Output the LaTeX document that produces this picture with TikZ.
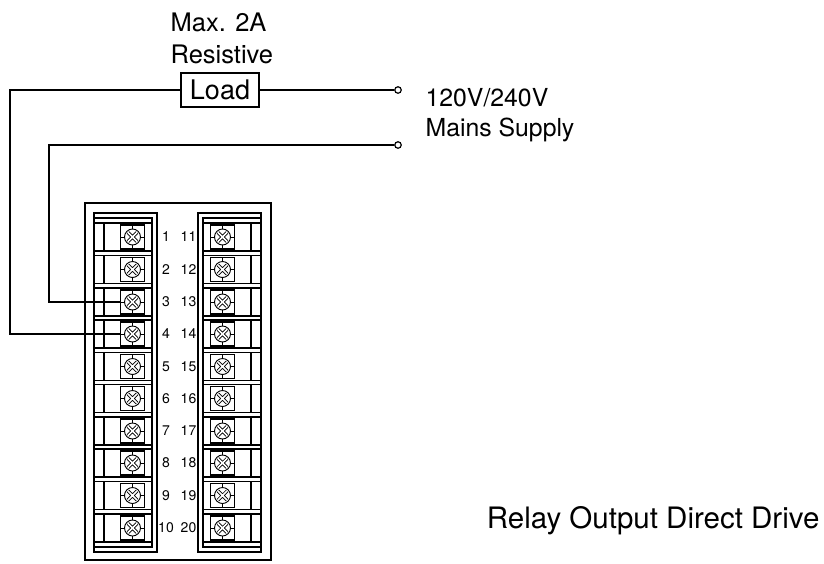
\documentclass[tikz,border=0pt]{standalone}
\usepackage{fontspec}
\setmainfont{TeX Gyre Heros}
\usepackage{tikz}
\usetikzlibrary{positioning}

\begin{document}
\begin{tikzpicture}[x=1pt,y=-1pt,line width=1.2pt,
    screw/.style={draw,rectangle,minimum width=24pt,minimum height=24pt,inner sep=0pt,fill=white,
      path picture={
        \coordinate (sc) at (path picture bounding box.center);
        \draw[line width=0.9pt] (sc) circle (8pt);
        \draw[line width=0.8pt,double,double distance=1.6pt]
          ([shift={(-4.6pt,-4.6pt)}]sc) -- ([shift={(4.6pt,4.6pt)}]sc)
          ([shift={(-4.6pt,4.6pt)}]sc) -- ([shift={(4.6pt,-4.6pt)}]sc);
        \draw[line width=0.9pt]
          ([yshift=8pt]sc) -- ([yshift=12pt]sc)
          ([yshift=-8pt]sc) -- ([yshift=-12pt]sc)
          ([xshift=8pt]sc) -- ([xshift=12pt]sc)
          ([xshift=-8pt]sc) -- ([xshift=-12pt]sc);}},
    num/.style={inner sep=0pt,font=\fontsize{14}{16}\selectfont},
    tag/.style={anchor=base west,inner sep=0pt,font=\fontsize{25.5}{30}\selectfont},
    supply/.style={circle,draw,fill=white,inner sep=0pt,minimum size=6.5pt},
    loadbox/.style={draw,rectangle,minimum width=78pt,minimum height=34pt,inner sep=0pt,font=\fontsize{27}{30}\selectfont}]

    \useasboundingbox (0,0) rectangle (824,563);

    % The housing
    \draw (85,203) rectangle (271,560);
    \draw (94,213) -- (157,213) -- (157,552) -- (94,552) -- cycle
          (94,218) -- (152,218) -- (152,547) -- (94,547);
    \draw (261,213) -- (198,213) -- (198,552) -- (261,552) -- cycle
          (261,218) -- (203,218) -- (203,547) -- (261,547);

    % Terminal rows
    \draw (94,223) rectangle (152,251) (104,223) -- (104,251) (203,223) rectangle (261,251) (251,223) -- (251,251);
    \draw (94,255.5) rectangle (152,283.5) (104,255.5) -- (104,283.5) (203,255.5) rectangle (261,283.5) (251,255.5) -- (251,283.5);
    \draw (94,288) rectangle (152,316) (104,288) -- (104,316) (203,288) rectangle (261,316) (251,288) -- (251,316);
    \draw (94,320) rectangle (152,348) (104,320) -- (104,348) (203,320) rectangle (261,348) (251,320) -- (251,348);
    \draw (94,352.5) rectangle (152,380.5) (104,352.5) -- (104,380.5) (203,352.5) rectangle (261,380.5) (251,352.5) -- (251,380.5);
    \draw (94,384.5) rectangle (152,412.5) (104,384.5) -- (104,412.5) (203,384.5) rectangle (261,412.5) (251,384.5) -- (251,412.5);
    \draw (94,417) rectangle (152,445) (104,417) -- (104,445) (203,417) rectangle (261,445) (251,417) -- (251,445);
    \draw (94,449) rectangle (152,477) (104,449) -- (104,477) (203,449) rectangle (261,477) (251,449) -- (251,477);
    \draw (94,481.5) rectangle (152,509.5) (104,481.5) -- (104,509.5) (203,481.5) rectangle (261,509.5) (251,481.5) -- (251,509.5);
    \draw (94,514) rectangle (152,542) (104,514) -- (104,542) (203,514) rectangle (261,542) (251,514) -- (251,542);

    % Screws
    \node [screw] at (132.5,237) (s1) {};
    \node [screw] at (132.5,269.5) (s2) {};
    \node [screw] at (132.5,302) (s3) {};
    \node [screw] at (132.5,334) (s4) {};
    \node [screw] at (132.5,366.5) (s5) {};
    \node [screw] at (132.5,398.5) (s6) {};
    \node [screw] at (132.5,431) (s7) {};
    \node [screw] at (132.5,463) (s8) {};
    \node [screw] at (132.5,495.5) (s9) {};
    \node [screw] at (132.5,528) (s10) {};
    \node [screw] at (222.5,237) (s11) {};
    \node [screw] at (222.5,269.5) (s12) {};
    \node [screw] at (222.5,302) (s13) {};
    \node [screw] at (222.5,334) (s14) {};
    \node [screw] at (222.5,366.5) (s15) {};
    \node [screw] at (222.5,398.5) (s16) {};
    \node [screw] at (222.5,431) (s17) {};
    \node [screw] at (222.5,463) (s18) {};
    \node [screw] at (222.5,495.5) (s19) {};
    \node [screw] at (222.5,528) (s20) {};

    % Terminal numbers
    \node [num] at (166,237) (n1) {1};
    \node [num] at (166,269.5) (n2) {2};
    \node [num] at (166,302) (n3) {3};
    \node [num] at (166,334) (n4) {4};
    \node [num] at (166,366.5) (n5) {5};
    \node [num] at (166,398.5) (n6) {6};
    \node [num] at (166,431) (n7) {7};
    \node [num] at (166,463) (n8) {8};
    \node [num] at (166,495.5) (n9) {9};
    \node [num] at (166,528) (n10) {10};
    \node [num] at (188.5,237) (n11) {11};
    \node [num] at (188.5,269.5) (n12) {12};
    \node [num] at (188.5,302) (n13) {13};
    \node [num] at (188.5,334) (n14) {14};
    \node [num] at (188.5,366.5) (n15) {15};
    \node [num] at (188.5,398.5) (n16) {16};
    \node [num] at (188.5,431) (n17) {17};
    \node [num] at (188.5,463) (n18) {18};
    \node [num] at (188.5,495.5) (n19) {19};
    \node [num] at (188.5,528) (n20) {20};

    % Load and supply
    \node [loadbox] at (220,90) (load) {Load};
    \node [supply] at (398,90) (live) {};
    \node [supply] at (398,145) (neutral) {};
    \coordinate (bendA) at (10,90);
    \coordinate (bendB) at (49,145);

    \node [tag] at (170,31.7) (max) {Max. 2A};
    \node [tag] at (170,63.3) (res) {Resistive};
    \node [tag,font=\fontsize{24.8}{30}\selectfont] at (425,106) (volt) {120V/240V};
    \node [tag,font=\fontsize{24.8}{30}\selectfont] at (425,136.7) (mains) {Mains Supply};
    \node [tag,anchor=base east,font=\fontsize{29.5}{34}\selectfont] at (820,528) (title) {Relay Output Direct Drive};

    % Wiring
    \draw (s4.west) -| (bendA) -- (load);
    \draw (load) -- (live);
    \draw (s3.west) -| (bendB) -- (neutral);
\end{tikzpicture}
\end{document}
